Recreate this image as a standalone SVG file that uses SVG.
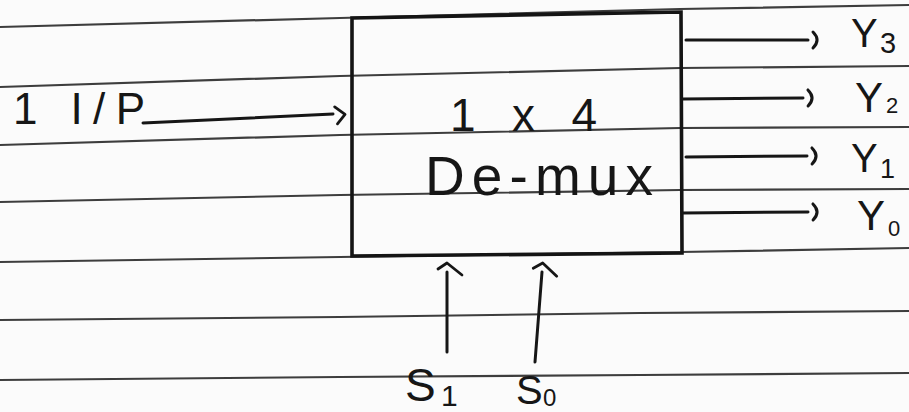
<svg xmlns="http://www.w3.org/2000/svg" width="909" height="412" viewBox="0 0 909 412">
  <style>
    .rule { fill: none; stroke: #3d3d3d; stroke-width: 2.2; stroke-linecap: round; stroke-linejoin: round; }
    .ink { fill: none; stroke: #161616; stroke-width: 3; stroke-linecap: round; stroke-linejoin: round; }
    .box { fill: none; stroke: #141414; stroke-width: 3.6; stroke-linejoin: miter; }
    .hw { font-family: "Liberation Sans", "DejaVu Sans", sans-serif; fill: #161616; }
  </style>
  <defs>
    <marker id="paren" markerUnits="userSpaceOnUse" markerWidth="30" markerHeight="30" refX="-5" refY="0" orient="auto" overflow="visible">
      <path d="M0,-8 Q8,0 0,8" fill="none" stroke="#161616" stroke-width="3" stroke-linecap="round"/>
    </marker>
    <marker id="chev" markerUnits="userSpaceOnUse" markerWidth="30" markerHeight="30" refX="-2" refY="0" orient="auto" overflow="visible">
      <path d="M0,-7 L10,1 L2,10" fill="none" stroke="#161616" stroke-width="2.8" stroke-linecap="round" stroke-linejoin="round"/>
    </marker>
    <marker id="caret" markerUnits="userSpaceOnUse" markerWidth="30" markerHeight="30" refX="0" refY="0" orient="auto" overflow="visible">
      <path d="M3,-9 L9,0 L-3,15" fill="none" stroke="#161616" stroke-width="2.8" stroke-linecap="round" stroke-linejoin="round"/>
    </marker>
  </defs>

  <rect x="0" y="0" width="909" height="412" fill="#fbfbfb"/>

  <g id="ruled-paper">
    <path class="rule" d="M0,27 L340,18 L680,9 L909,5"/>
    <path class="rule" d="M0,87 L340,76 L680,68 L909,66"/>
    <path class="rule" d="M0,145 L340,135 L680,128 L909,127"/>
    <path class="rule" d="M0,202 L340,195 L680,190 L909,189"/>
    <path class="rule" d="M0,262 L340,257 L680,252 L909,248"/>
    <path class="rule" d="M0,320 L340,317 L640,313 L909,311"/>
    <path class="rule" d="M0,380 L340,377 L640,375 L909,373"/>
  </g>

  <g id="input-label">
    <text class="hw" x="13" y="124" font-size="44" textLength="132" lengthAdjust="spacing">1 I/P</text>
  </g>

  <g id="demux">
    <path class="box" d="M352,18 L681,12 L682,253 L352,256 Z"/>
    <text class="hw" x="450" y="131" font-size="46" textLength="147" lengthAdjust="spacing">1 x 4</text>
    <text class="hw" x="425" y="195" font-size="55" textLength="228" lengthAdjust="spacing">De-mux</text>
  </g>

  <g id="connectors">
    <path class="ink" d="M143,123 L333,114" marker-end="url(#chev)"/>
    <path class="ink" d="M686,40 L808,40" marker-end="url(#paren)"/>
    <path class="ink" d="M683,99 L803,98" marker-end="url(#paren)"/>
    <path class="ink" d="M686,157 L807,156" marker-end="url(#paren)"/>
    <path class="ink" d="M683,213 L808,212" marker-end="url(#paren)"/>
    <path class="ink" d="M447,352 L447,272" marker-end="url(#caret)"/>
    <path class="ink" d="M535,362 L542,272" marker-end="url(#caret)"/>
  </g>

  <g id="out-y3">
    <text class="hw" font-size="40"><tspan x="851" y="47">Y</tspan><tspan x="880" y="53" font-size="29">3</tspan></text>
  </g>
  <g id="out-y2">
    <text class="hw" font-size="42"><tspan x="855" y="112">Y</tspan><tspan x="886" y="113" font-size="22">2</tspan></text>
  </g>
  <g id="out-y1">
    <text class="hw" font-size="40"><tspan x="851" y="172">Y</tspan><tspan x="880" y="178" font-size="27">1</tspan></text>
  </g>
  <g id="out-y0">
    <text class="hw" font-size="42"><tspan x="857" y="230">Y</tspan><tspan x="888" y="236" font-size="22">0</tspan></text>
  </g>

  <g id="sel-s1">
    <text class="hw" font-size="46"><tspan x="405" y="401">S</tspan><tspan x="441" y="406" font-size="30">1</tspan></text>
  </g>
  <g id="sel-s0">
    <text class="hw" font-size="40"><tspan x="516" y="404">S</tspan><tspan x="543" y="406" font-size="24">0</tspan></text>
  </g>
</svg>
